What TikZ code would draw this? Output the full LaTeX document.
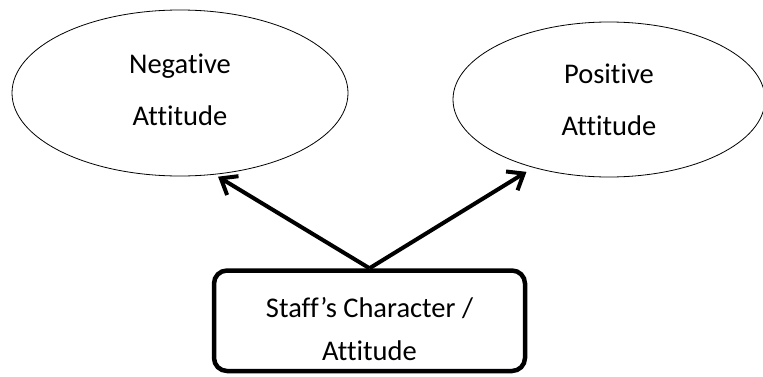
\documentclass[tikz,border=0pt]{standalone}
\usepackage{fontspec}
\setmainfont{Carlito}[Ligatures=NoCommon]
\usetikzlibrary{arrows.meta, shapes.geometric}
\tikzset{
  attitude/.style={draw, ellipse, line width=0.8pt, inner sep=0pt, align=center, font=\fontsize{28.5}{52}\selectfont},
  sourcebox/.style={draw, rounded corners=13pt, line width=4.5pt, inner sep=0pt, align=center, font=\fontsize{28.5}{43}\selectfont}
}
\begin{document}
\begin{tikzpicture}[x=1pt, y=1pt, >={Straight Barb[length=14pt, width=22pt, sharp]}]
        \useasboundingbox (0,0) rectangle (763,376);
        \node[attitude, minimum width=336pt, minimum height=166pt] (neg) at (180,283) {Negative\\Attitude\rule[-7pt]{0pt}{0pt}};
        \node[attitude, minimum width=312pt, minimum height=155pt] (pos) at (609,276.5) {Positive\\Attitude};
        \node[sourcebox, minimum width=311pt, minimum height=100.5pt] (staff) at (369.5,55.25) {\rule{0pt}{36pt}Staff’s Character /\\Attitude};
        \draw[->, line width=4pt, shorten >=4pt] (staff.north) -- (neg.293);
        \draw[->, line width=4pt, shorten >=8pt] (staff.north) -- (pos.222.6);
      \end{tikzpicture}
\end{document}
